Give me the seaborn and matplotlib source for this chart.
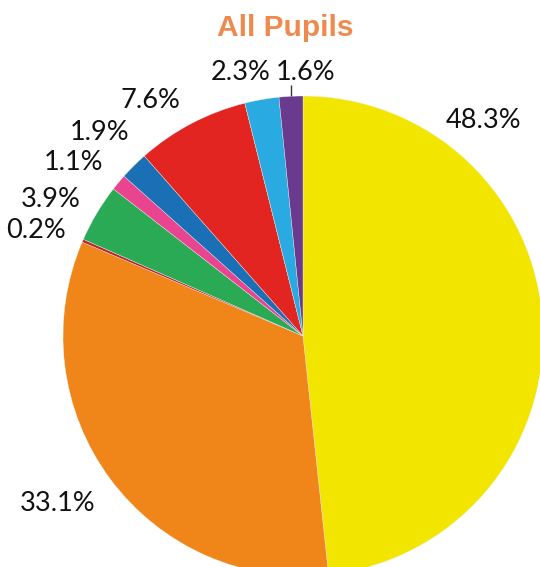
import numpy as np
import matplotlib
matplotlib.use("Agg")
import matplotlib.pyplot as plt
import seaborn as sns

# Share of pupils by group, clockwise from twelve o'clock
groups = ["Group A", "Group B", "Group C", "Group D", "Group E",
          "Group F", "Group G", "Group H", "Group I"]
shares = [48.3, 33.1, 0.2, 3.9, 1.1, 1.9, 7.6, 2.3, 1.6]
labels = [f"{v:.1f}%" for v in shares]
colors = ["#F2E500", "#F0861A", "#C0272D", "#2BAA55", "#E8448F",
          "#1A6FB5", "#E32522", "#29ABE2", "#6A3A8E"]
title = "All Pupils"

# Label anchor points (pixel x, baseline pixel y from the top edge)
label_layout = [(484, 128), (58, 511), (36, 238), (51, 207), (74, 170),
                (100, 140), (150, 108), (241, 80), (306, 80)]

W, H = 540, 567
sns.set_theme(style="white")
plt.rcParams["font.family"] = ["Lato", "DejaVu Sans"]

fig = plt.figure(figsize=(W / 100, H / 100), dpi=100)
ax = fig.add_axes([0, 0, 1, 1])

cx, cy, r = 303, H - 336, 240
wedges, _ = ax.pie(shares, colors=sns.color_palette(colors), startangle=90,
                   counterclock=False, center=(cx, cy), radius=r,
                   wedgeprops=dict(edgecolor="#f4f4f4", linewidth=0.25))
ax.set_xlim(0, W)
ax.set_ylim(0, H)
ax.set_aspect("auto")
ax.axis("off")

for text, (x, y) in zip(labels, label_layout):
    ax.text(x, H - y, text, ha="center", va="baseline", fontsize=19.5,
            color="#111111")

# Leader line for the thin last slice
w = wedges[-1]
mid = np.deg2rad((w.theta1 + w.theta2) / 2)
x0 = cx + r * np.cos(mid)
y0 = cy + r * np.sin(mid)
ax.plot([x0, x0], [y0, H - 85], color="#333333", lw=1.0, solid_capstyle="butt")

ax.text(285, H - 36, title, ha="center", va="baseline", fontsize=21.5,
        fontweight="bold", color="#EF8A4F", family=["Liberation Sans", "DejaVu Sans"])

fig.savefig("out.png", dpi=100)
